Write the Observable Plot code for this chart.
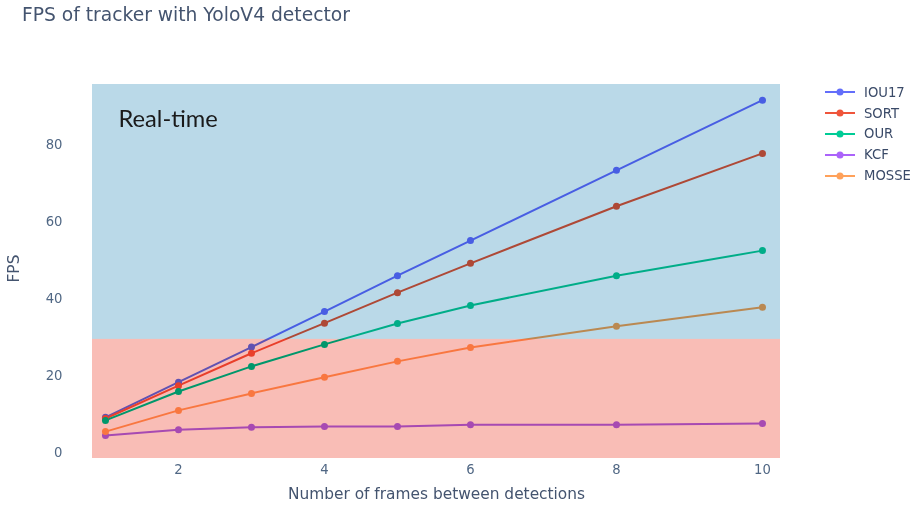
<!DOCTYPE html>
<html>
<head>
<meta charset="utf-8">
<script src="https://cdn.jsdelivr.net/npm/d3@7"></script>
<script src="https://cdn.jsdelivr.net/npm/@observablehq/plot@0.6"></script>
<style>
  html, body { margin: 0; padding: 0; background: #fff; }
  #wrap { position: relative; width: 921px; height: 508px; font-family: "DejaVu Sans", sans-serif; }
  #title { position: absolute; left: 22px; top: 4px; font-size: 18.7px; color: #44546f; white-space: nowrap; }
  #legend { position: absolute; left: 825px; top: 82px; font-size: 13.2px; color: #3a4a68; }
  .item { display: flex; align-items: center; height: 20.8px; }
  .item svg { margin-right: 9px; }
</style>
</head>
<body>
<div id="wrap">
  <div id="chart"></div>
  <div id="title">FPS of tracker with YoloV4 detector</div>
  <div id="legend"></div>
</div>
<script>
// ---- data ----
const frames = [1, 2, 3, 4, 5, 6, 8, 10];
const seriesNames = ["IOU17", "SORT", "OUR", "KCF", "MOSSE"];
const seriesColors = ["#636efa", "#ef553b", "#00cc96", "#ab63fa", "#ffa15a"];
const iou17 = [9.3, 18.4, 27.5, 36.7, 46.0, 55.1, 73.3, 91.5];
const sort  = [9.0, 17.5, 25.9, 33.7, 41.6, 49.2, 64.0, 77.7];
const our   = [8.5, 16.0, 22.5, 28.2, 33.6, 38.3, 46.0, 52.5];
const kcf   = [4.6, 6.1, 6.7, 6.9, 6.9, 7.4, 7.4, 7.7];
const mosse = [5.6, 11.1, 15.5, 19.7, 23.8, 27.4, 32.9, 37.8];
const xTicks = [2, 4, 6, 8, 10];
const yTicks = [0, 20, 40, 60, 80];
const xDomain = [0.822, 10.247];
const yDomain = [-1.37, 95.55];
const realTimeThreshold = 29.5;
const zoneNames = ["real-time", "not real-time"];
const zoneColors = ["#aed2e4", "#f8b1a9"];
const annotationText = "Real-time";

// ---- build table ----
const values = [iou17, sort, our, kcf, mosse];
const rows = [];
seriesNames.forEach((name, i) => {
  frames.forEach((f, j) => rows.push({ series: name, frames: f, fps: values[i][j] }));
});
const zones = [
  { zone: zoneNames[0], lo: realTimeThreshold, hi: yDomain[1] },
  { zone: zoneNames[1], lo: yDomain[0], hi: realTimeThreshold }
];

const colorScale = { domain: seriesNames, range: seriesColors };

const chart = Plot.plot({
  width: 921,
  height: 508,
  marginTop: 84,
  marginBottom: 50,
  marginLeft: 92,
  marginRight: 141,
  style: { fontFamily: "DejaVu Sans, sans-serif", background: "#fff" },
  x: { domain: xDomain },
  y: { domain: yDomain },
  color: colorScale,
  marks: [
    Plot.line(rows, { x: "frames", y: "fps", z: "series", stroke: "series", strokeWidth: 2 }),
    Plot.dot(rows, { x: "frames", y: "fps", fill: "series", r: 3.5 }),
    Plot.rect(zones, {
      x1: () => xDomain[0], x2: () => xDomain[1], y1: "lo", y2: "hi",
      fill: d => zoneColors[zoneNames.indexOf(d.zone)],
      fillOpacity: 0.85, mixBlendMode: "multiply"
    }),
    Plot.text([annotationText], {
      frameAnchor: "top-left", dx: 26, dy: 26, text: d => d,
      textAnchor: "start", fontSize: 23.7, fill: "#1a1a1a", fontFamily: "Lato, sans-serif"
    }),
    Plot.axisX({ ticks: xTicks, tickSize: 0, tickPadding: 6, fontSize: 13.2, color: "#506784", label: null }),
    Plot.axisY({ ticks: yTicks, tickSize: 0, tickPadding: 30, fontSize: 13.2, color: "#506784", label: null }),
    Plot.text(["Number of frames between detections"], {
      frameAnchor: "bottom", dy: 40, text: d => d, fontSize: 15.4, fill: "#44546f"
    }),
    Plot.text(["FPS"], {
      frameAnchor: "left", dx: -78, dy: 11, rotate: -90, text: d => d, fontSize: 15.4, fill: "#44546f"
    })
  ]
});
document.getElementById("chart").appendChild(chart);

// ---- legend ----
const legend = document.getElementById("legend");
seriesNames.forEach((name, i) => {
  const div = document.createElement("div");
  div.className = "item";
  div.innerHTML = `<svg width="30" height="10"><line x1="0" y1="5" x2="30" y2="5" stroke="${seriesColors[i]}" stroke-width="2"/><circle cx="15" cy="5" r="3.5" fill="${seriesColors[i]}"/></svg><span>${name}</span>`;
  legend.appendChild(div);
});
</script>
</body>
</html>
